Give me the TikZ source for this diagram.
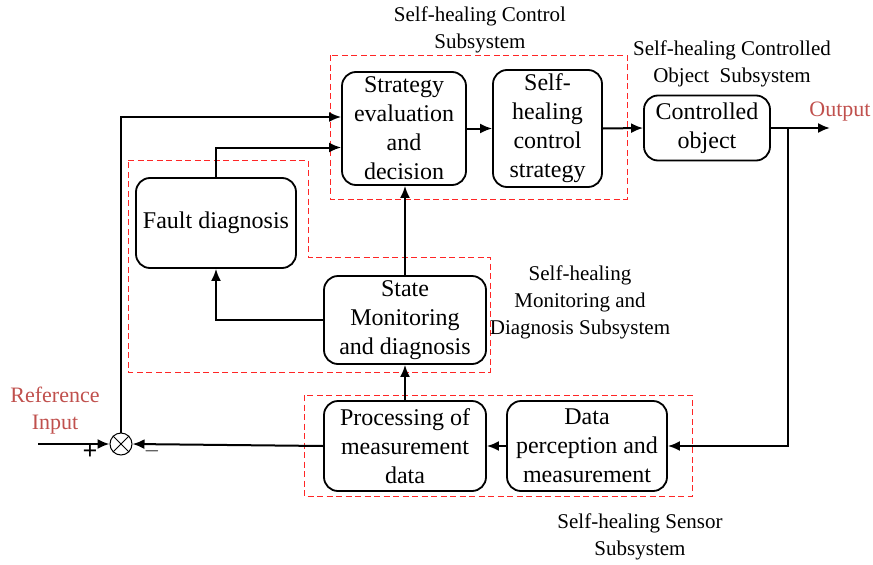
\documentclass[tikz,border=0pt]{standalone}
\usepackage{fontspec}
\setmainfont{Liberation Serif}
\usetikzlibrary{arrows.meta,calc,positioning}
\definecolor{lblred}{RGB}{192,80,77}
\tikzset{
  block/.style={draw,line width=1.8pt,rounded corners=14pt,align=center,inner sep=2pt,
    font=\fontsize{24}{29}\selectfont},
  arr/.style={line width=2pt,-{Latex[length=12pt,width=10pt]}},
  region/.style={draw=red!85,line width=0.9pt,dash pattern=on 6pt off 3.5pt},
  caption/.style={align=center,font=\fontsize{21}{27}\selectfont},
  redtext/.style={align=center,text=lblred,font=\fontsize{22}{27}\selectfont}
}
\begin{document}
\begin{tikzpicture}[x=1pt,y=-1pt]
\useasboundingbox (0,0) rectangle (873,565);
% blocks
\node[block,minimum width=124pt,minimum height=113pt] (strategy) at (404,128.5) {Strategy\\evaluation\\and\\decision};
\node[block,minimum width=109pt,minimum height=117pt] (heal) at (547.5,128.5) {Self-\\healing\\control\\strategy};
\node[block,minimum width=126pt,minimum height=65pt] (ctrl) at (707,128) {Controlled\\object};
\node[block,minimum width=160pt,minimum height=90pt] (fault) at (216,223) {Fault diagnosis};
\node[block,minimum width=162pt,minimum height=88pt] (state) at (405,320) {State\\Monitoring\\and diagnosis};
\node[block,minimum width=162pt,minimum height=90pt] (proc) at (405,446) {Processing of\\measurement\\data};
\node[block,minimum width=160pt,minimum height=90pt] (data) at (587,446) {Data\\perception and\\measurement};
\node[draw,circle,line width=1pt,minimum size=22pt,inner sep=0pt] (sum) at (121,444) {};
\draw[line width=0.8pt] (sum.north west) -- (sum.south east) (sum.north east) -- (sum.south west);

% subsystem frames
\draw[region] (330,55) rectangle (627,199);
\draw[region] (128,160) -- (308,160) -- (308,257) -- (490,257) -- (490,372) -- (128,372) -- cycle;
\draw[region] (304,395) rectangle (692,496);

% captions
\node[caption] (capctrl) at (480,30) {Self-healing Control\\Subsystem};
\node[caption] (capobj) at (732,64) {Self-healing Controlled\\Object~~Subsystem};
\node[caption] (capmon) at (580,302) {Self-healing\\Monitoring and\\Diagnosis Subsystem};
\node[caption] (capsen) at (640,537) {Self-healing Sensor\\Subsystem};
\node[redtext] (refin) at (55,411) {Reference\\Input};
\node[redtext] (outlbl) at (840,112) {Output};
\node[font=\fontsize{26}{26}\selectfont\bfseries] (plus) at (90,452) {+};
\node[font=\fontsize{22}{22}\selectfont\bfseries] (minus) at (152,451) {$-$};

% connectors
\coordinate (start) at (38,444);
\coordinate (tap) at (788,128);
\coordinate (out) at (830,128);
\draw[arr] (start) -- (sum.west);
\draw[arr] (sum.north) |- ([yshift=11.5pt]strategy.west);
\draw[arr] (fault.north) |- ([yshift=-19pt]strategy.west);
\draw[arr] (strategy.east) -- (heal.west);
\draw[arr] (heal.east) -- (ctrl.west);
\draw[arr] (ctrl.east) -- (out);
\draw[arr] (tap) |- (data.east);
\draw[arr] (data.west) -- (proc.east);
\draw[arr] (proc.west) -- (sum.east);
\draw[arr] (proc.north) -- (state.south);
\draw[arr] (state.north) -- (state.north |- strategy.south);
\draw[arr] (state.west) -| (fault.south);
\end{tikzpicture}
\end{document}
